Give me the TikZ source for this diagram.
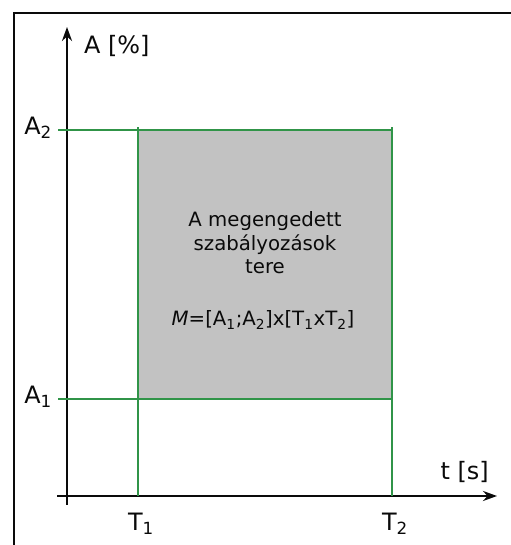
\documentclass[tikz,border=0pt]{standalone}
\usepackage{fontspec}
\setmainfont{DejaVu Sans}
\usetikzlibrary{arrows.meta}
\definecolor{limitgreen}{RGB}{48,148,72}
\definecolor{areagray}{RGB}{194,194,194}
\definecolor{ink}{RGB}{10,10,10}

\begin{document}
\begin{tikzpicture}[
  x=1bp, y=1bp,
  axis/.style={-{Stealth[length=14bp,width=10bp]}, ink, line width=2.4bp},
  limit/.style={limitgreen, line width=2.2bp},
  axlabel/.style={font=\fontsize{24}{28}\selectfont, text=ink, inner sep=1bp},
  boxtext/.style={font=\fontsize{19.8}{23.5}\selectfont, text=ink, align=center},
]

\useasboundingbox (0,0) rectangle (511,545);

% ---- frame ----
\draw[ink, line width=2.8bp] (14,-5) -- (14,532) -- (520,532);

% ---- allowed region ----
\fill[areagray] (138,146) rectangle (392,415);

% ---- axes ----
\coordinate (ybot) at (67,40);
\coordinate (ytop) at (67,518);
\coordinate (xleft) at (57,49);
\coordinate (xright) at (497,49);
\draw[axis] (ybot) -- (ytop);
\draw[axis] (xleft) -- (xright);

% ---- limits ----
\coordinate (a1l) at (58,146);  \coordinate (a1r) at (393,146);
\coordinate (a2l) at (58,415);  \coordinate (a2r) at (393,415);
\coordinate (t1b) at (138,49);  \coordinate (t1t) at (138,418);
\coordinate (t2b) at (392,49);  \coordinate (t2t) at (392,418);
\draw[limit] (a1l) -- (a1r);
\draw[limit] (a2l) -- (a2r);
\draw[limit] (t1b) -- (t1t);
\draw[limit] (t2b) -- (t2t);

% ---- labels ----
\node[axlabel, anchor=west] (ylab) at (83,499) {A [\%]};
\node[axlabel, anchor=east] (tlab) at (490,73) {t [s]};
\node[axlabel, anchor=east] (a2) at (53,417) {A\textsubscript{2}};
\node[axlabel, anchor=east] (a1) at (53,148) {A\textsubscript{1}};
\node[axlabel] (t1) at (141,21) {T\textsubscript{1}};
\node[axlabel] (t2) at (395,21) {T\textsubscript{2}};

% ---- region text ----
\node[boxtext] (desc) at (265,302) {A megengedett\\szabályozások\\tere};
\node[boxtext] (set) at (263,225)
      {\textit{M}=[A\textsubscript{1};A\textsubscript{2}]x[T\textsubscript{1}xT\textsubscript{2}]};

\end{tikzpicture}
\end{document}
